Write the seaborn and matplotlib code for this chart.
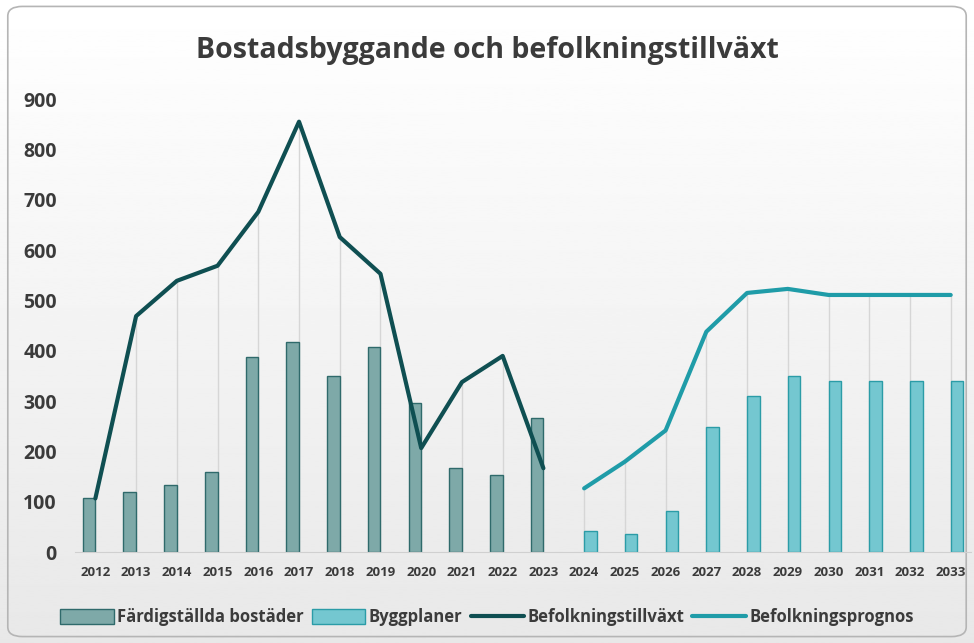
import numpy as np
import pandas as pd
import matplotlib
matplotlib.use("Agg")
import matplotlib.pyplot as plt
import seaborn as sns
from matplotlib.patches import Patch, FancyBboxPatch
from matplotlib.lines import Line2D

# data läst från bilden
years = [str(y) for y in range(2012, 2034)]
fardigstallda = [107, 119, 133, 159, 388, 417, 350, 408, 296, 167, 153, 266]
byggplaner = [42, 36, 83, 248, 311, 351, 340, 340, 340, 340]
befolkningstillvaxt = [107, 469, 539, 569, 676, 855, 626, 553, 207, 338, 390, 167]
befolkningsprognos = [127, 180, 242, 438, 515, 523, 511, 511, 511, 511]

lbl_bar1 = "Färdigställda bostäder"
lbl_bar2 = "Byggplaner"
lbl_line1 = "Befolkningstillväxt"
lbl_line2 = "Befolkningsprognos"

c_bar1, e_bar1 = "#7ea9a8", "#2f6a6b"
c_bar2, e_bar2 = "#74c7d0", "#2b9ca7"
c_line1 = "#0f4f52"
c_line2 = "#1f9ca8"
txt = "#3b3b3b"

sns.set_style("white")
plt.rcParams["font.family"] = ["Open Sans", "DejaVu Sans"]

n_hist = len(fardigstallda)
df = pd.DataFrame({
    "year": years[:n_hist] + years[n_hist:],
    "value": fardigstallda + byggplaner,
    "serie": [lbl_bar1] * n_hist + [lbl_bar2] * len(byggplaner),
})

fig = plt.figure(figsize=(9.74, 6.43), dpi=100)

# bakgrund med gradient och rundad ram
bg = fig.add_axes([0, 0, 1, 1], zorder=-5)
grad = np.linspace(1.0, 0.91, 256).reshape(-1, 1)
bg.imshow(grad, cmap="gray", vmin=0, vmax=1, aspect="auto", extent=[0, 1, 0, 1])
bg.add_patch(FancyBboxPatch((0.008, 0.01), 0.984, 0.98, boxstyle="round,pad=0,rounding_size=0.015",
                            transform=bg.transAxes, fill=False, edgecolor="#b5b5b5", lw=1.2))
bg.set_xlim(0, 1)
bg.set_ylim(0, 1)
bg.axis("off")

ax = fig.add_axes([0.077, 0.141, 0.92, 0.705])
ax.set_facecolor("none")

pos = np.arange(len(years))
ax.vlines(pos[:n_hist], 0, befolkningstillvaxt, color="#d6d6d6", lw=1, zorder=0)
ax.vlines(pos[n_hist:], 0, befolkningsprognos, color="#d6d6d6", lw=1, zorder=0)

sns.barplot(data=df, x="year", y="value", hue="serie", order=years,
            hue_order=[lbl_bar1, lbl_bar2], palette=[c_bar1, c_bar2], saturation=1,
            width=0.62, dodge=True, legend=False, ax=ax, zorder=2)
for cont, ec in zip(ax.containers, [e_bar1, e_bar2]):
    for p in cont:
        p.set_edgecolor(ec)
        p.set_linewidth(1.0)

sns.lineplot(x=pos[:n_hist], y=befolkningstillvaxt, color=c_line1, lw=3, ax=ax, zorder=3)
sns.lineplot(x=pos[n_hist:], y=befolkningsprognos, color=c_line2, lw=3, ax=ax, zorder=3)

ax.set_xlim(-0.5, len(years) - 0.5)
ax.set_ylim(0, 900)
ax.set_yticks(range(0, 901, 100))
ax.set_xlabel("")
ax.set_ylabel("")
for s in ["top", "right", "left"]:
    ax.spines[s].set_visible(False)
ax.spines["bottom"].set_color("#d0d0d0")
ax.tick_params(axis="y", length=0, labelsize=14, labelcolor=txt, pad=13)
ax.tick_params(axis="x", length=0, labelsize=9.5, labelcolor=txt, pad=10)
for t in ax.get_xticklabels() + ax.get_yticklabels():
    t.set_fontweight("bold")

fig.text(0.5, 0.922, "Bostadsbyggande och befolkningstillväxt", ha="center", va="center",
         fontsize=20.5, fontweight="bold", color=txt)

handles = [
    Patch(facecolor=c_bar1, edgecolor=e_bar1, label=lbl_bar1),
    Patch(facecolor=c_bar2, edgecolor=e_bar2, label=lbl_bar2),
    Line2D([], [], color=c_line1, lw=3, label=lbl_line1),
    Line2D([], [], color=c_line2, lw=3, label=lbl_line2),
]
leg = fig.legend(handles=handles, loc="center", bbox_to_anchor=(0.5, 0.04), ncol=4,
                 frameon=False, fontsize=12, handlelength=3.2, handleheight=1.0,
                 handletextpad=0.2, columnspacing=0.5)
for t in leg.get_texts():
    t.set_fontweight("bold")
    t.set_color(txt)

fig.savefig("out.png", dpi=100)
